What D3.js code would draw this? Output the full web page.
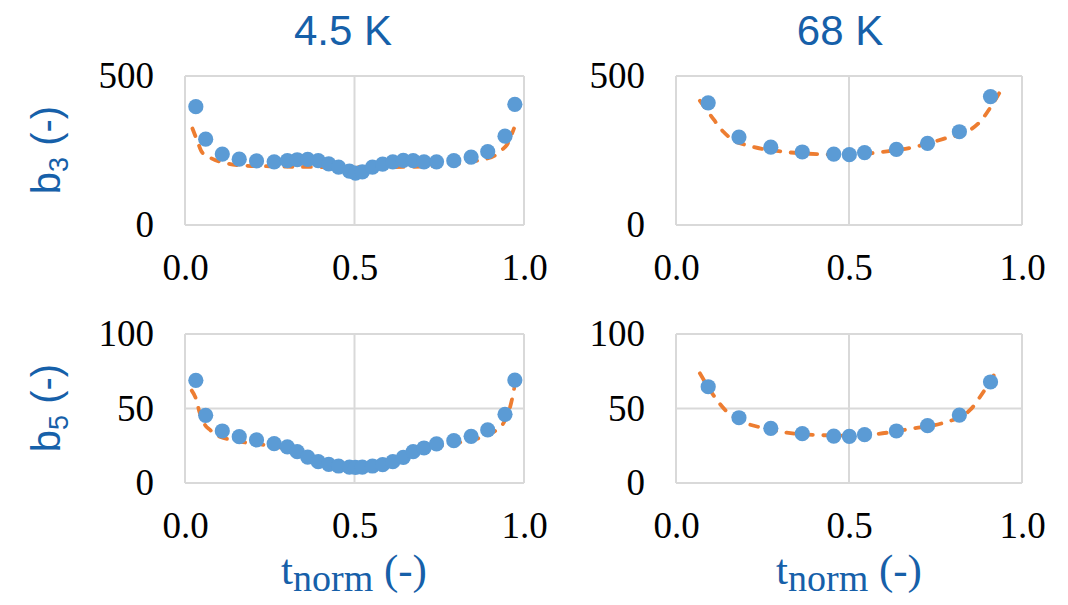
<!DOCTYPE html>
<html>
<head>
<meta charset="utf-8">
<script src="https://cdn.jsdelivr.net/npm/d3@7"></script>
<style>
  html, body { margin: 0; padding: 0; background: #ffffff; }
  svg { display: block; }
</style>
</head>
<body>
<svg id="chart" width="1068" height="605"></svg>
<script>
// ---------------- data ----------------
const panelTitles = ["4.5 K", "68 K"];
const xTickValues = [0, 0.5, 1];
const xTickLabels = ["0.0", "0.5", "1.0"];
const b3TickValues = [0, 500];
const b5TickValues = [0, 50, 100];

// 4.5 K measurements
const t45 = [0.032, 0.061, 0.110, 0.160, 0.211, 0.263, 0.302, 0.331, 0.362, 0.393, 0.424, 0.453, 0.485, 0.503,
             0.523, 0.553, 0.583, 0.613, 0.644, 0.673, 0.705, 0.742, 0.793, 0.844, 0.893, 0.944, 0.973];
const b3_45 = [397, 288, 238, 221, 215, 212, 216, 219, 220, 216, 205, 194, 181, 174,
               178, 194, 204, 212, 217, 216, 212, 212, 216, 228, 246, 298, 405];
const b5_45 = [68.9, 45.4, 34.9, 31.1, 28.9, 26.4, 24.2, 21.0, 17.4, 14.3, 12.5, 11.4, 10.7, 10.5,
               10.7, 11.4, 12.3, 14.3, 17.2, 21.0, 23.5, 26.2, 28.4, 31.3, 35.6, 46.1, 69.1];

// 68 K measurements
const t68 = [0.093, 0.182, 0.274, 0.365, 0.456, 0.501, 0.545, 0.637, 0.727, 0.819, 0.909];
const b3_68 = [410, 295, 261, 245, 238, 236, 243, 254, 274, 313, 431];
const b5_68 = [64.6, 43.8, 36.7, 33.1, 31.5, 31.3, 32.4, 34.9, 38.5, 45.6, 67.8];

// trendlines
const trT_b3_45 = [0.022, 0.037, 0.049, 0.074, 0.123, 0.177, 0.25, 0.35, 0.5, 0.65, 0.767, 0.821, 0.870, 0.914, 0.934, 0.949, 0.9705];
const trV_b3_45 = [324, 280, 246, 226, 207, 199, 197, 195, 194, 195, 201, 207, 218, 233, 252, 268, 324];
const trT_b5_45 = [0.020, 0.035, 0.041, 0.059, 0.074, 0.093, 0.138, 0.236, 0.30, 0.36, 0.42, 0.5, 0.58, 0.64, 0.70, 0.764, 0.821, 0.875, 0.919, 0.939, 0.963, 0.971];
const trV_b5_45 = [62, 54.6, 49, 39, 35.6, 32.2, 28.9, 25.5, 23, 18, 13, 10.8, 13, 18, 23, 25.5, 27.7, 30.7, 35.6, 40, 54.6, 63.6];
const trT_b3_68 = [0.069, 0.10, 0.137, 0.161, 0.214, 0.31, 0.407, 0.5, 0.58, 0.686, 0.773, 0.85, 0.879, 0.909, 0.934];
const trV_b3_68 = [417, 368, 313, 288, 265, 246, 238, 236, 243, 261, 289, 319, 347, 395, 442];
const trT_b5_68 = [0.069, 0.108, 0.147, 0.204, 0.243, 0.32, 0.407, 0.5, 0.58, 0.686, 0.768, 0.85, 0.879, 0.922];
const trV_b5_68 = [73.6, 59, 47.9, 40, 37.4, 33.8, 32.2, 31.8, 32.9, 36.7, 40, 49, 57.9, 73.6];

// ---------------- layout ----------------
const BLUE_TEXT = "#1660a9";
const MARK = "#5b9bd5";
const TREND = "#ed7d31";
const GRID = "#d9d9d9";

const svg = d3.select("#chart");

const panels = [
  { box: [185, 524, 76, 225],  t: t45, v: b3_45, tt: trT_b3_45, tv: trV_b3_45, yMax: 500, yTicks: b3TickValues },
  { box: [676, 1022, 76, 225], t: t68, v: b3_68, tt: trT_b3_68, tv: trV_b3_68, yMax: 500, yTicks: b3TickValues },
  { box: [185, 524, 334, 483], t: t45, v: b5_45, tt: trT_b5_45, tv: trV_b5_45, yMax: 100, yTicks: b5TickValues },
  { box: [676, 1022, 334, 483], t: t68, v: b5_68, tt: trT_b5_68, tv: trV_b5_68, yMax: 100, yTicks: b5TickValues }
];

panels.forEach(p => {
  const [x0, x1, y0, y1] = p.box;
  const x = d3.scaleLinear().domain([0, 1]).range([x0, x1]);
  const y = d3.scaleLinear().domain([0, p.yMax]).range([y1, y0]);
  const g = svg.append("g");

  // gridlines
  g.selectAll(".gx").data(xTickValues).enter().append("line")
    .attr("x1", d => x(d)).attr("x2", d => x(d))
    .attr("y1", y0).attr("y2", y1)
    .attr("stroke", GRID).attr("stroke-width", 2);
  g.selectAll(".gy").data(p.yTicks).enter().append("line")
    .attr("x1", x0).attr("x2", x1)
    .attr("y1", d => y(d)).attr("y2", d => y(d))
    .attr("stroke", GRID).attr("stroke-width", 2);

  // axes (labels only)
  const ax = g.append("g").attr("transform", `translate(0,${y1})`)
    .call(d3.axisBottom(x).tickValues(xTickValues).tickFormat((d, i) => xTickLabels[i]).tickSize(0).tickPadding(29));
  const ay = g.append("g").attr("transform", `translate(${x0},0)`)
    .call(d3.axisLeft(y).tickValues(p.yTicks).tickFormat(d3.format("d")).tickSize(0).tickPadding(31));
  [ax, ay].forEach(a => {
    a.select(".domain").remove();
    a.selectAll("text")
      .attr("fill", "#000")
      .style("font-family", "'Liberation Serif', 'Times New Roman', serif")
      .style("font-size", "37px");
  });
  ax.selectAll("text").attr("dy", "0.71em");

  // trendline
  const line = d3.line().x(d => x(d[0])).y(d => y(d[1])).curve(d3.curveMonotoneX);
  g.append("path")
    .datum(p.tt.map((t, i) => [t, p.tv[i]]))
    .attr("d", line)
    .attr("fill", "none")
    .attr("stroke", TREND)
    .attr("stroke-width", 3.8)
    .attr("stroke-linecap", "round")
    .attr("stroke-dasharray", "8,10.5");

  // markers
  g.selectAll("circle").data(p.t.map((t, i) => [t, p.v[i]])).enter().append("circle")
    .attr("cx", d => x(d[0])).attr("cy", d => y(d[1])).attr("r", 7.6)
    .attr("fill", MARK);
});

// titles
[[343, panelTitles[0]], [840, panelTitles[1]]].forEach(([cx, txt]) => {
  svg.append("text").attr("x", cx).attr("y", 45).attr("text-anchor", "middle")
    .attr("fill", BLUE_TEXT)
    .style("font-family", "'Liberation Sans', Arial, sans-serif").style("font-size", "42px")
    .text(txt);
});

// y labels
[[150, "3"], [408, "5"]].forEach(([cy, sub]) => {
  const t = svg.append("text").attr("transform", `translate(60,${cy}) rotate(-90)`)
    .attr("text-anchor", "middle").attr("fill", BLUE_TEXT)
    .style("font-family", "'Liberation Sans', Arial, sans-serif").style("font-size", "40px");
  t.append("tspan").text("b");
  t.append("tspan").attr("dy", 8).style("font-size", "27px").text(sub);
  t.append("tspan").attr("dy", -8).text(" (-)");
});

// x labels
[354, 849].forEach(cx => {
  const t = svg.append("text").attr("x", cx).attr("y", 584)
    .attr("text-anchor", "middle").attr("fill", BLUE_TEXT)
    .style("font-family", "'Liberation Serif', 'Times New Roman', serif").style("font-size", "43px");
  t.append("tspan").text("t");
  t.append("tspan").attr("dy", 7).style("font-size", "38px").text("norm");
  t.append("tspan").attr("dy", -7).text(" (-)");
});
</script>
</body>
</html>
